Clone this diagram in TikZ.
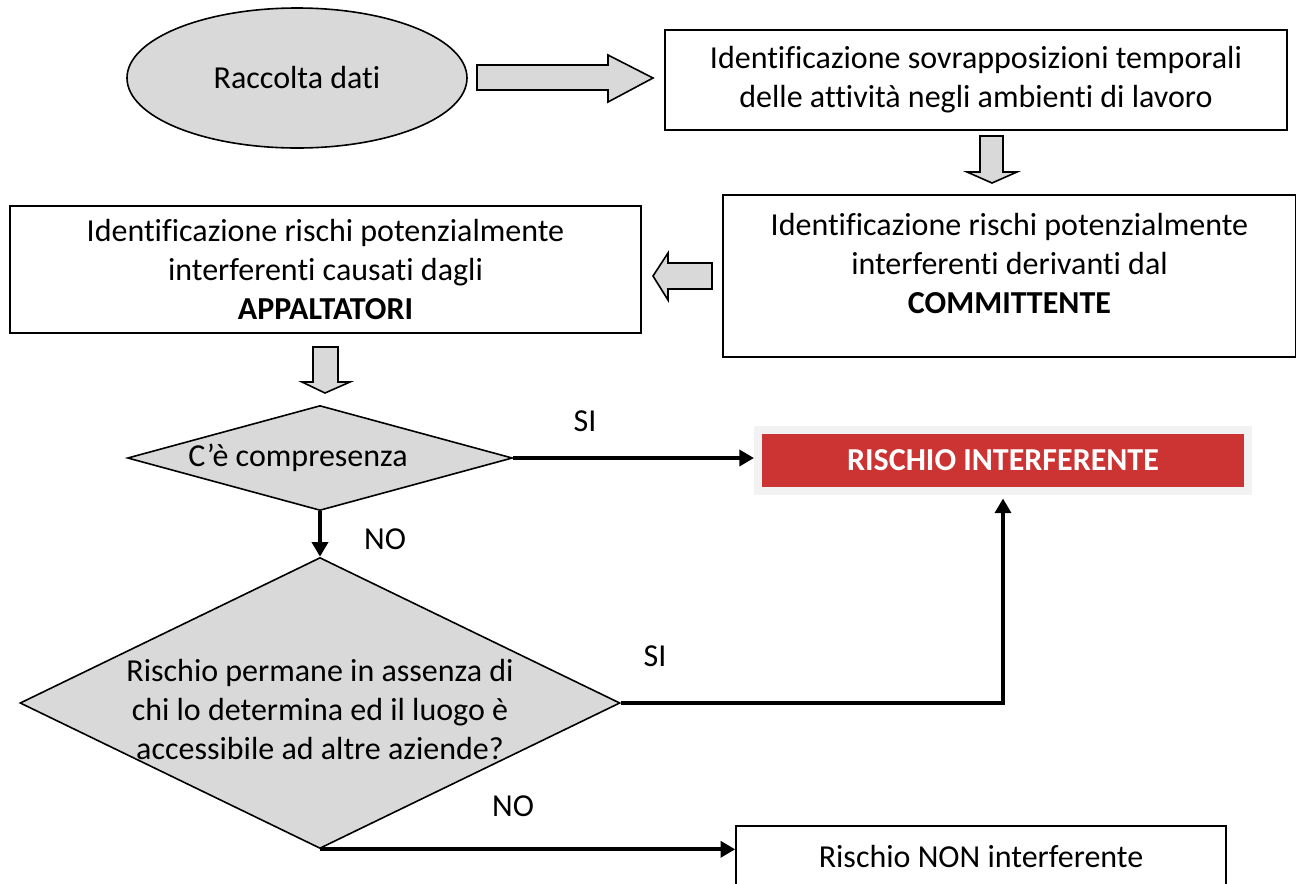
\documentclass[tikz,border=0pt]{standalone}
\usepackage{fontspec}
\setmainfont{Carlito}[Ligatures=NoCommon]
\usetikzlibrary{arrows.meta}
\usetikzlibrary{shapes.geometric}
\usetikzlibrary{positioning}

\definecolor{boxgray}{HTML}{D9D9D9}
\definecolor{rimgray}{HTML}{F2F2F2}
\definecolor{riskred}{HTML}{CC3333}

\begin{document}
\begin{tikzpicture}[
  x=0.75pt, y=-0.75pt,
  every node/.style={font=\fontsize{24}{29.25}\selectfont},
  > = {Triangle[length=11pt,width=12pt]},
  box/.style = {draw, line width=1.2pt, fill=white, align=center, inner sep=0pt},
  decision/.style = {draw, line width=1.2pt, fill=boxgray, diamond, inner sep=0pt},
  blockarrow/.style = {draw, line width=1.2pt, fill=boxgray, line join=miter},
  flow/.style = {->, line width=2.8pt}
  ]
	\useasboundingbox (0,0) rectangle (1296,883);

	% boxes
	\node[ellipse, draw, line width=1.2pt, fill=boxgray, minimum width=255pt, minimum height=105pt] (raccolta) at (297,78) {Raccolta dati};
	\node[box, minimum width=466.5pt, minimum height=75pt] (sovrapp) at (976,80) {Identificazione sovrapposizioni temporali\\delle attività negli ambienti di lavoro};
	\node[box, minimum width=429.75pt, minimum height=121.5pt] (commbox) at (1009.5,276) {};
	\node[align=center, inner sep=0pt] (commtext) at (1009.5,263) {Identificazione rischi potenzialmente\\interferenti derivanti dal\\\textbf{COMMITTENTE}};
	\node[box, minimum width=473.25pt, minimum height=95.25pt] (appalt) at (325.5,269.5) {Identificazione rischi potenzialmente\\interferenti causati dagli\\\textbf{APPALTATORI}};

	\node[decision, minimum width=288.75pt, minimum height=78.75pt] (compres) at (320,458) {};
	\node[inner sep=0pt] (comprestext) at (298,458) {C’è compresenza};
	\node[decision, minimum width=450pt, minimum height=218.25pt] (permane) at (320,703) {};
	\node[align=center, inner sep=0pt] (permanetext) at (320,709) {Rischio permane in assenza di\\chi lo determina ed il luogo è\\accessibile ad altre aziende?};

	\node[draw=rimgray, line width=6pt, fill=riskred, text=white, font=\fontsize{24}{29.25}\selectfont\bfseries, minimum width=367.5pt, minimum height=45.75pt] (rischio) at (1003,460) {RISCHIO INTERFERENTE};
	\node[box, minimum width=367.5pt, minimum height=45pt] (nonint) at (981,856) {Rischio NON interferente};

	% block arrows
	\draw[blockarrow] (477,65) -- (608,65) -- (608,55) -- (653,78) -- (608,102) -- (608,90) -- (477,90) -- cycle;
	\draw[blockarrow] (980,136) -- (1003,136) -- (1003,172) -- (1017,172) -- (992,183) -- (967,172) -- (980,172) -- cycle;
	\draw[blockarrow] (712,263) -- (668,263) -- (668,253) -- (653,276) -- (668,300) -- (668,289) -- (712,289) -- cycle;
	\draw[blockarrow] (313,347) -- (338,347) -- (338,382) -- (350,382) -- (325,393) -- (302,382) -- (313,382) -- cycle;

	% connectors
	\draw[flow] (compres.east) -- (compres.east -| rischio.west);
	\draw[flow] (compres.south) -- (permane.north);
	\draw[flow, shorten >=3pt] (permane.east) -| (rischio.south);
	\draw[flow] (permane.south) -- (permane.south -| nonint.west);

	\node (si1) at (585,421) {SI};
	\node (no1) at (385,539) {NO};
	\node (si2) at (655,656) {SI};
	\node (no2) at (513,806) {NO};

\end{tikzpicture}
\end{document}
